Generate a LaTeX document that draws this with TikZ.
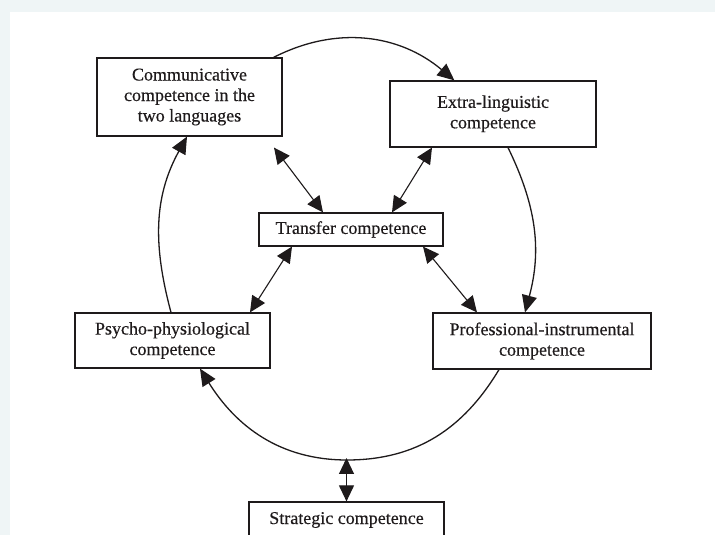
\documentclass[tikz,border=0pt]{standalone}
\usepackage{fontspec}
\setmainfont{Liberation Serif}
\newfontfamily\scanfont{Liberation Serif}[FakeBold=0.35]
\usetikzlibrary{arrows.meta}
\definecolor{bgband}{RGB}{239,245,246}
\definecolor{ink}{RGB}{30,26,27}
\begin{document}
\begin{tikzpicture}[x=1pt,y=1pt,
  box/.style={draw=ink, line width=1.2pt, rectangle, inner sep=0pt, align=center,
    font=\scanfont\fontsize{18}{20.5}\selectfont, text=ink},
  arcline/.style={draw=ink, line width=1.3pt, -{Triangle[length=17pt,width=15pt]}},
  dbl/.style={draw=ink, line width=1.1pt, {Triangle[length=16pt,width=15pt]}-{Triangle[length=16pt,width=15pt]}}
]
\useasboundingbox (0,0) rectangle (715,535);
\clip (0,0) rectangle (715,535);
\fill[bgband] (0,0) rectangle (715,535);
\fill[white] (10,0) rectangle (715,523);

% nodes
\node[box, minimum width=185pt, minimum height=78pt] (comm) at (189.5,438)
  {Communicative\\competence in the\\two languages};
\node[box, minimum width=206pt, minimum height=66pt] (extra) at (493,421)
  {\raisebox{4pt}{\begin{tabular}{@{}c@{}}Extra-linguistic\\competence\end{tabular}}};
\node[box, minimum width=184pt, minimum height=33pt] (transfer) at (351,305.5)
  {Transfer competence};
\node[box, minimum width=195pt, minimum height=55pt] (psycho) at (172.5,194.5)
  {Psycho-physiological\\competence};
\node[box, minimum width=218pt, minimum height=56pt] (prof) at (542,194)
  {Professional-instrumental\\competence};
\node[box, minimum width=195pt, minimum height=36pt] (strat) at (346.5,15)
  {Strategic competence};

% points on box borders
\coordinate (s1) at ([xshift=-9pt]comm.north east);
\coordinate (e1) at ([xshift=65pt]extra.north west);
\coordinate (s2) at ([xshift=15pt]extra.south);
\coordinate (e2) at ([xshift=-17pt]prof.north);
\coordinate (s3) at ([xshift=-43pt]prof.south);
\coordinate (bot) at (347,75);
\coordinate (e3) at ([xshift=27.5pt]psycho.south);
\coordinate (s4) at ([xshift=-1.5pt]psycho.north);
\coordinate (e4) at ([xshift=-2.5pt]comm.south);

% the ring of arcs
\draw[arcline] (s1) to[out=27, in=140] (e1);
\draw[arcline] (s2) to[out=-64, in=75] (e2);
\draw[arcline] (s3) to[out=-121, in=0] (bot) to[out=180, in=-58] (e3);
\draw[arcline] (s4) to[out=105, in=-119] (e4);

% double arrows to transfer competence
\coordinate (a1) at ([shift={(84.5pt,-11pt)}]comm.south);
\draw[dbl] (a1) -- ([xshift=-28pt]transfer.north);
\draw[dbl] ([xshift=-61pt]extra.south) -- ([xshift=41pt]transfer.north);
\draw[dbl] ([xshift=-59pt]transfer.south) -- ([xshift=77.5pt]psycho.north);
\draw[dbl] ([xshift=72pt]transfer.south) -- ([xshift=-65pt]prof.north);

% strategic
\draw[dbl] (strat.north) -- ([yshift=2pt]strat.north |- bot);
\end{tikzpicture}
\end{document}
